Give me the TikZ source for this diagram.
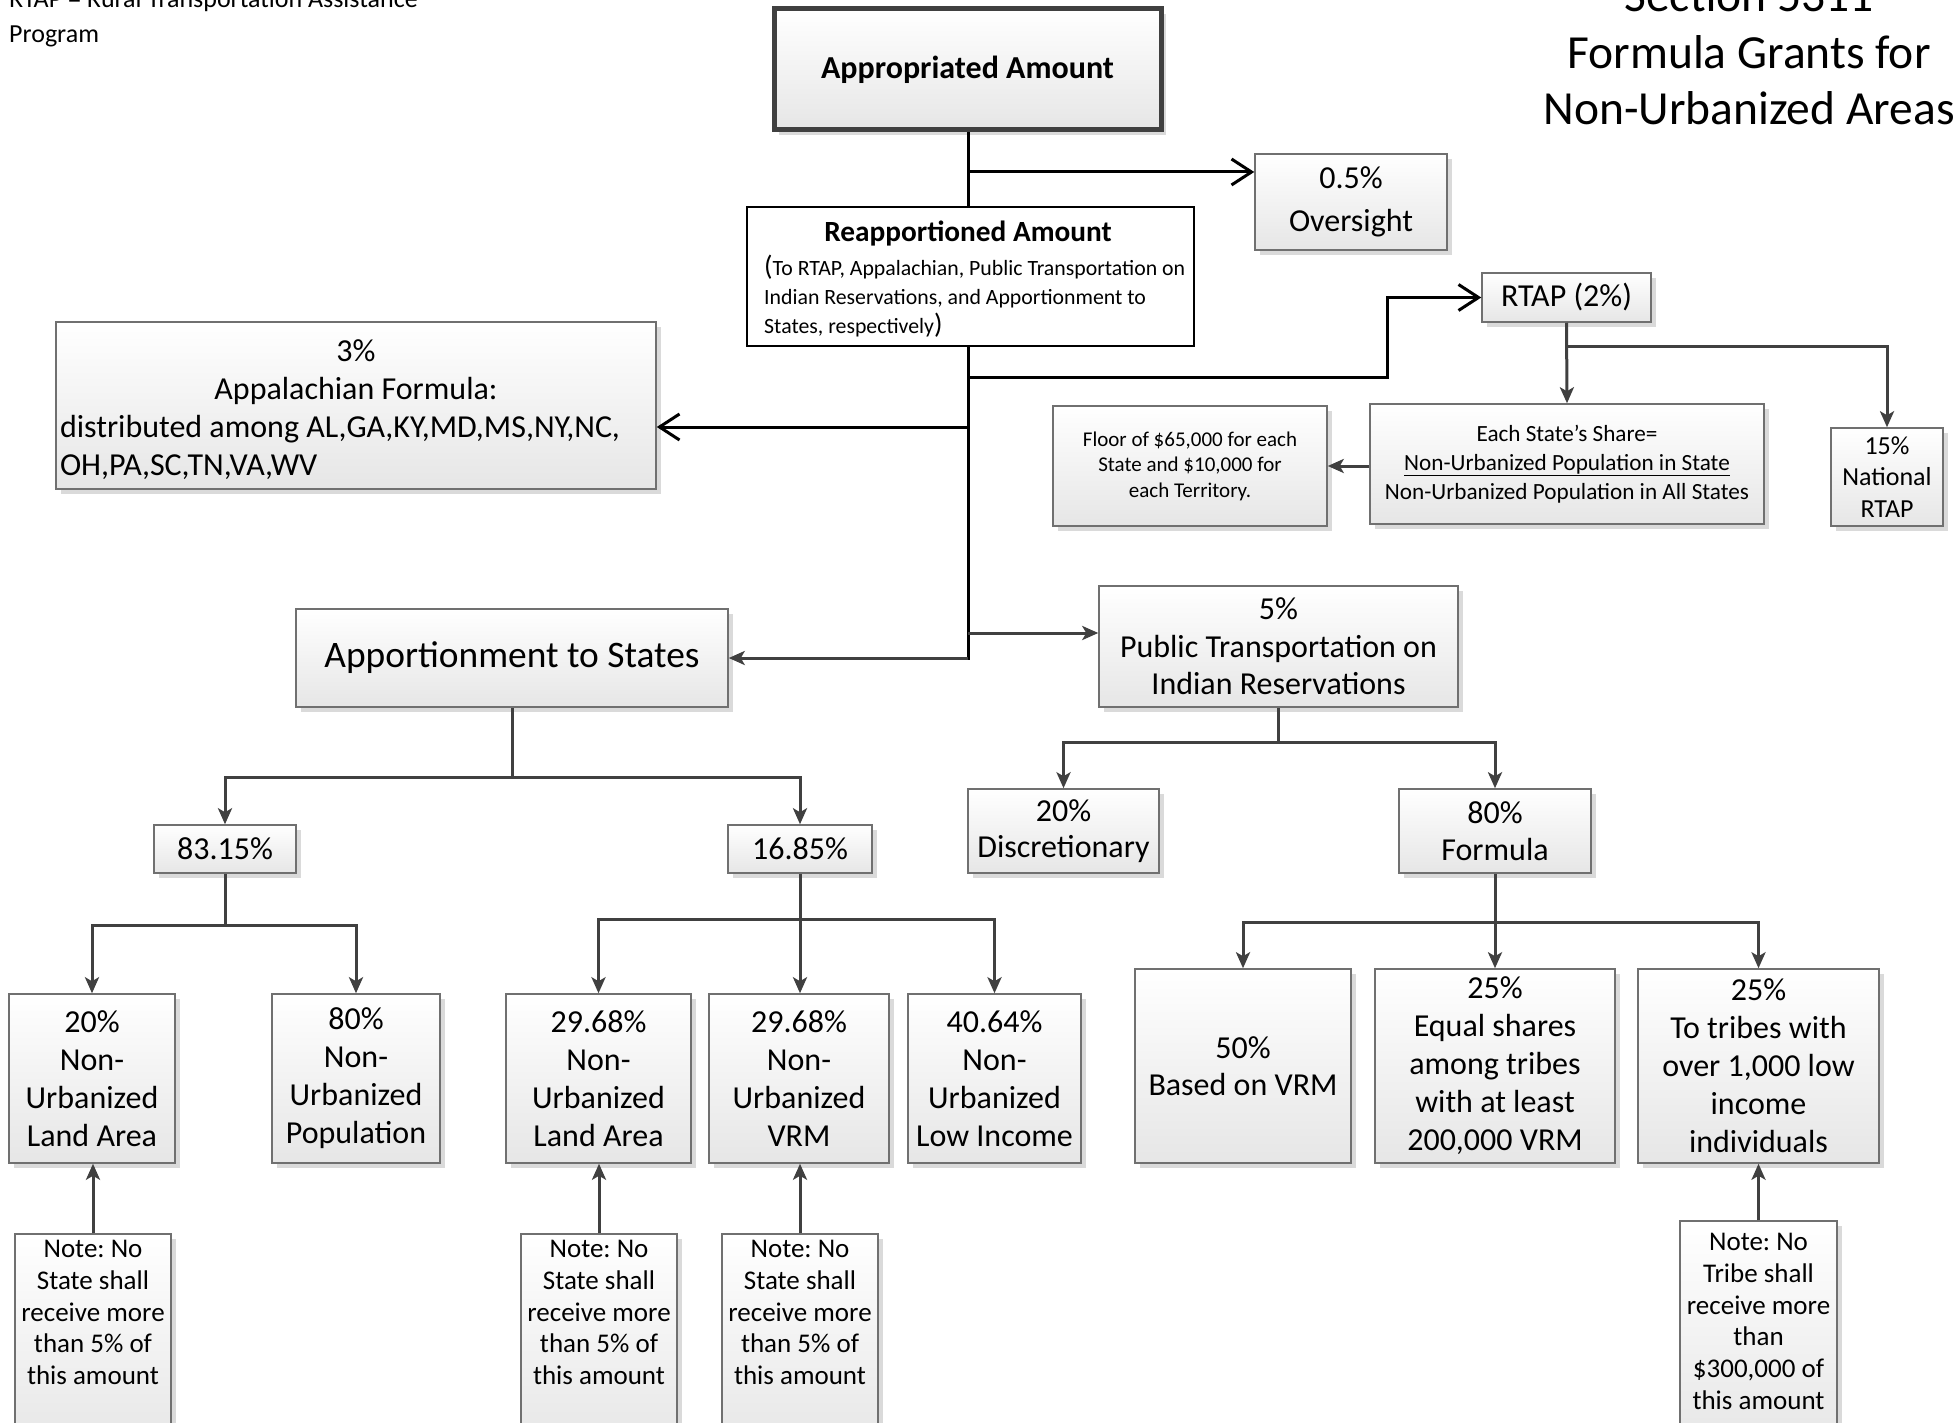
\documentclass[tikz,border=0pt]{standalone}
\usepackage{fontspec}
\setmainfont{Carlito}
\usetikzlibrary{arrows.meta,shadows,shadings}
\newcommand{\fsz}[2]{\fontsize{#1}{#2}\selectfont}
\frenchspacing
\definecolor{lineg}{HTML}{404040}
\definecolor{boxline}{HTML}{707070}
\definecolor{boxbot}{HTML}{E6E6E6}
\definecolor{shadowc}{HTML}{DADADA}
\tikzset{
  bx/.style={draw=boxline, line width=1.5pt, top color=white, bottom color=boxbot,
    inner sep=0pt, align=center, font=\fsz{32}{38},
    drop shadow={shadow xshift=5pt, shadow yshift=-5pt, fill=shadowc, opacity=1}},
  txt/.style={inner sep=0pt},
  gline/.style={draw=lineg, line width=3pt},
  garr/.style={gline, -{Stealth[length=16pt,width=14pt,inset=4pt]}},
  bline/.style={draw=black, line width=3pt},
  barr/.style={bline, -{Straight Barb[length=20pt,width=26pt]}}
}
\begin{document}
\begin{tikzpicture}[x=1pt,y=-1pt]
\useasboundingbox (0,0) rectangle (1958,1423);

% corner texts
\node[txt, anchor=base west, font=\fsz{26}{33}] (tl1) at (9,8) {RTAP = Rural Transportation Assistance};
\node[txt, anchor=base west, font=\fsz{26}{33}] (tl2) at (9,43) {Program};
\node[txt, anchor=base, font=\fsz{47.5}{56}] (t1) at (1749,12) {Section 5311};
\node[txt, anchor=base, font=\fsz{47.5}{56}] (t2) at (1749,68.5) {Formula Grants for};
\node[txt, anchor=base, font=\fsz{47.5}{56}] (t3) at (1749,124.5) {Non-Urbanized Areas};

% top boxes
\node[bx, draw=lineg, line width=5pt, minimum width=387, minimum height=121, font=\bfseries\fsz{32}{38}] (appr) at (967.5,69.5) {Appropriated Amount};
\node[bx, minimum width=192, minimum height=96, font=\fsz{32}{43}] (over) at (1351,202) {0.5\%\\Oversight};
\node[draw=black, line width=2.5pt, fill=white, inner sep=0pt, minimum width=447, minimum height=139] (reapp) at (970.5,276.5) {};
\node[txt, font=\bfseries\fsz{29.3}{34}] (reappT) at (968,234) {Reapportioned Amount};
\node[txt, anchor=north west, align=flush left, font=\fsz{21.8}{29}] (reappB) at (764,255)
  {{\fsz{28}{29}(}To RTAP, Appalachian, Public Transportation on\\Indian Reservations, and Apportionment to\\States, respectively{\fsz{28}{29})}};

% RTAP group
\node[bx, minimum width=169, minimum height=49] (rtap) at (1566.5,297.5) {RTAP (2\%)};
\node[bx, minimum width=394, minimum height=120, font=\fsz{23.2}{28.7}] (share) at (1567,464)
  {Each State’s Share=\\\underline{Non-Urbanized Population in State}\\Non-Urbanized Population in All States};
\node[bx, minimum width=274, minimum height=120, font=\fsz{21}{25.6}] (floor) at (1190,466)
  {Floor of \$65,000 for each\\State and \$10,000 for\\each Territory.};
\node[bx, minimum width=112, minimum height=98, font=\fsz{26}{31.8}] (nat) at (1887,477) {15\%\\National\\RTAP};

% Appalachian
\node[bx, minimum width=600, minimum height=167, text width=592, align=flush left] (appal) at (356,405.5)
  {\makebox[\linewidth]{\rule{0pt}{31pt}3\%}\\\makebox[\linewidth]{Appalachian Formula:}\\distributed among AL,GA,KY,MD,MS,NY,NC,\\OH,PA,SC,TN,VA,WV};

% second level
\node[bx, minimum width=432, minimum height=98, font=\fsz{37.4}{44}] (apps) at (512,658) {\raisebox{-2pt}{Apportionment to States}};
\node[bx, minimum width=359, minimum height=121, font=\fsz{32}{37.5}] (pub) at (1278.5,646.5)
  {5\%\\Public Transportation on\\Indian Reservations};

\node[bx, minimum width=142, minimum height=48] (p8315) at (225,849) {83.15\%};
\node[bx, minimum width=144, minimum height=48] (p1685) at (800,849) {16.85\%};
\node[bx, minimum width=191, minimum height=84, font=\fsz{32}{37.5}] (disc) at (1063.5,831) {\raisebox{-2pt}{20\%}\\Discretionary};
\node[bx, minimum width=192, minimum height=84, font=\fsz{32}{37.5}] (form) at (1495,831) {80\%\\Formula};

% bottom boxes
\node[bx, minimum width=166, minimum height=169] (la1) at (92,1078.5) {20\%\\Non-\\Urbanized\\Land Area};
\node[bx, minimum width=168, minimum height=169] (pop) at (356,1078.5) {80\%\\Non-\\Urbanized\\Population};
\node[bx, minimum width=185, minimum height=169] (la2) at (598.5,1078.5) {29.68\%\\Non-\\Urbanized\\Land Area};
\node[bx, minimum width=180, minimum height=169] (vrm) at (799,1078.5) {29.68\%\\Non-\\Urbanized\\VRM};
\node[bx, minimum width=173, minimum height=169] (li) at (994.5,1078.5) {40.64\%\\Non-\\Urbanized\\Low Income};
\node[bx, minimum width=216, minimum height=194, font=\fsz{32}{37.5}] (bvrm) at (1243,1066) {50\%\\Based on VRM};
\node[bx, minimum width=240, minimum height=194] (eq) at (1495,1066) {25\%\\Equal shares\\among tribes\\with at least\\200,000 VRM};
\node[bx, minimum width=241, minimum height=194] (tr) at (1758.5,1066) {25\%\\To tribes with\\over 1,000 low\\income\\individuals};

% notes
\node[bx, minimum width=156, minimum height=216] (n1) at (93,1342) {};
\node[bx, minimum width=156, minimum height=216] (n2) at (599,1342) {};
\node[bx, minimum width=156, minimum height=216] (n3) at (800,1342) {};
\node[bx, minimum width=157, minimum height=229] (n4) at (1758.5,1335.5) {};
\node[txt, anchor=north, align=center, font=\fsz{27}{31.8}] (n1t) at (93,1240) {Note: No\\State shall\\receive more\\than 5\% of\\this amount};
\node[txt, anchor=north, align=center, font=\fsz{27}{31.8}] (n2t) at (599,1240) {Note: No\\State shall\\receive more\\than 5\% of\\this amount};
\node[txt, anchor=north, align=center, font=\fsz{27}{31.8}] (n3t) at (800,1240) {Note: No\\State shall\\receive more\\than 5\% of\\this amount};
\node[txt, anchor=north, align=center, font=\fsz{27}{31.8}] (n4t) at (1758.5,1233) {Note: No\\Tribe shall\\receive more\\than\\\$300,000 of\\this amount};

% junction coordinates
\coordinate (jO) at (968,172);
\coordinate (jR) at (968,377);
\coordinate (kR) at (1387,377);
\coordinate (jA) at (968,427);
\coordinate (jP) at (968,633);
\coordinate (jS) at (968,658);
\coordinate (kN) at (1566.5,346);
\coordinate (kS) at (512,777);
\coordinate (kP) at (1278.5,742);
\coordinate (k1) at (225,925);
\coordinate (k2) at (800,919);
\coordinate (k3) at (1495,922);

% top connectors (black)
\draw[bline] (appr.south -| jO) -- (reapp.north -| jO);
\draw[barr] (jO) -- (jO -| over.west);
\draw[bline, line cap=rect] (reapp.south -| jO) -- (jS);
\draw[barr] (jR) -- (kR) |- (rtap.west);
\draw[barr] (jA) -- (jA -| appal.east);
\draw[garr] (jP) -- (jP -| pub.west);
\draw[garr] (jS) -- (apps.east);

% RTAP connectors
\draw[garr] (rtap.south) -- (share.north);
\draw[garr] (kN) -| (nat.north);
\draw[garr] (share.west |- floor.east) -- (floor.east);

% tree connectors
\draw[gline] (apps.south) -- (kS);
\draw[garr] (kS) -| (p8315.north);
\draw[garr] (kS) -| (p1685.north);
\draw[gline] (pub.south) -- (kP);
\draw[garr] (kP) -| (disc.north);
\draw[garr] (kP) -| (form.north);
\draw[gline] (p8315.south) -- (k1);
\draw[garr] (k1) -| (la1.north);
\draw[garr] (k1) -| (pop.north);
\draw[gline] (p1685.south) -- (k2);
\draw[garr] (k2) -| (la2.north);
\draw[garr] (k2) -- (k2 |- vrm.north);
\draw[garr] (k2) -| (li.north);
\draw[gline] (form.south) -- (k3);
\draw[garr] (k3) -| (bvrm.north);
\draw[garr] (k3) -- (eq.north);
\draw[garr] (k3) -| (tr.north);

% note connectors
\draw[garr] (n1.north) -- (n1.north |- la1.south);
\draw[garr] (n2.north) -- (n2.north |- la2.south);
\draw[garr] (n3.north) -- (n3.north |- vrm.south);
\draw[garr] (n4.north) -- (n4.north |- tr.south);
\end{tikzpicture}
\end{document}
